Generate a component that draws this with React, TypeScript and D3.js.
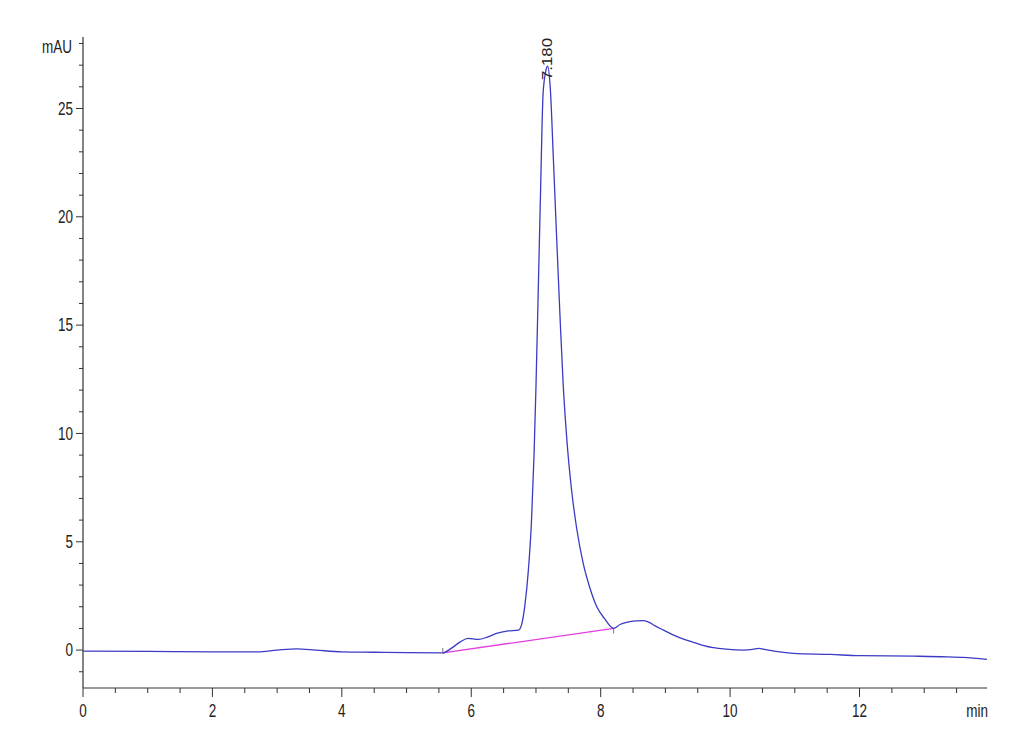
import React from "react";
import * as d3 from "d3";

const times = [0, 1, 2, 2.7, 3.0, 3.3, 3.6, 4.0, 4.5, 5.0, 5.56, 5.7, 5.83, 5.95, 6.11, 6.25, 6.39, 6.55, 6.73, 6.78, 6.83, 6.88, 6.93, 6.97, 7.0, 7.04, 7.07, 7.11, 7.15, 7.18, 7.22, 7.27, 7.32, 7.37, 7.42, 7.48, 7.55, 7.63, 7.73, 7.83, 7.94, 8.06, 8.2, 8.3, 8.4, 8.55, 8.66, 8.75, 8.81, 8.95, 9.12, 9.27, 9.43, 9.58, 9.74, 9.95, 10.2, 10.35, 10.44, 10.55, 10.98, 11.55, 12.0, 12.83, 13.35, 13.6, 13.97];
const signal = [-0.05, -0.06, -0.08, -0.08, 0.0, 0.06, 0.0, -0.08, -0.1, -0.12, -0.13, 0.1, 0.38, 0.54, 0.49, 0.6, 0.77, 0.88, 0.92, 1.2, 2.1, 3.6, 5.9, 9.0, 12.15, 17.2, 21.06, 25.68, 26.7, 26.95, 26.0, 22.6, 19.0, 15.5, 12.3, 9.6, 7.4, 5.6, 4.0, 2.9, 2.0, 1.45, 1.0, 1.18, 1.28, 1.35, 1.36, 1.28, 1.17, 0.95, 0.7, 0.52, 0.36, 0.22, 0.11, 0.04, 0.0, 0.03, 0.08, 0.02, -0.15, -0.2, -0.26, -0.28, -0.31, -0.34, -0.43];

const baselineTimes = [5.56, 8.2];
const baselineValues = [-0.13, 1.0];

const peakTime = 7.18;
const peakLabel = "7.180";

const xMajorTicks = [0, 2, 4, 6, 8, 10, 12];
const yMajorTicks = [0, 5, 10, 15, 20, 25];
const xUnit = "min";
const yUnit = "mAU";

const FONT = "'Liberation Sans', Arial, sans-serif";

export default function App() {
  const x = d3.scaleLinear().domain([0, 13.97]).range([83, 987]);
  const y = d3.scaleLinear().domain([-1.75, 28.3]).range([688, 37]);

  const pts = times.map((t, i) => [t, signal[i]] as [number, number]);
  const line = d3
    .line<[number, number]>()
    .x((d) => x(d[0]))
    .y((d) => y(d[1]))
    .curve(d3.curveMonotoneX);

  const xMinor = d3.range(0, 13.75, 0.5);
  const yMinor = d3.range(-1, 28.5, 1);

  const txt = (key: string, tx: number, ty: number, s: string, anchor: string) => (
    <g key={key} transform={`translate(${tx},${ty}) scale(1,1.32)`}>
      <text
        x={0}
        y={0}
        textAnchor={anchor as any}
        dominantBaseline="central"
        fontFamily={FONT}
        fontSize={13.5}
        fill="#222"
      >
        {s}
      </text>
    </g>
  );

  const bx0 = x(baselineTimes[0]);
  const by0 = y(baselineValues[0]);
  const bx1 = x(baselineTimes[1]);
  const by1 = y(baselineValues[1]);

  return (
    <svg
      width={1030}
      height={755}
      style={{ position: "absolute", left: 0, top: 0, display: "block", background: "#fff" }}
    >
      <rect x={0} y={0} width={1030} height={755} fill="#fff" />
      {/* axes */}
      <line x1={83} y1={y.range()[1]} x2={83} y2={688} stroke="#333" strokeWidth={1.2} />
      <line x1={83} y1={688} x2={987} y2={688} stroke="#333" strokeWidth={1.2} />
      {xMinor.map((t) => {
        const major = xMajorTicks.includes(t);
        return (
          <line key={"xt" + t} x1={x(t)} x2={x(t)} y1={688} y2={688 + (major ? 9 : 5)} stroke="#333" strokeWidth={1} />
        );
      })}
      {yMinor.map((v) => {
        const major = yMajorTicks.includes(v);
        return (
          <line key={"yt" + v} x1={83 - (major ? 7 : 4)} x2={83} y1={y(v)} y2={y(v)} stroke="#333" strokeWidth={1} />
        );
      })}
      {xMajorTicks.map((t) => txt("xl" + t, x(t), 711, String(t), "middle"))}
      {yMajorTicks.map((v) => txt("yl" + v, 73, y(v), String(v), "end"))}
      {txt("yu", 72, 47, yUnit, "end")}
      {txt("xu", 988, 711, xUnit, "end")}

      {/* baseline */}
      <line x1={bx0} y1={by0} x2={bx1} y2={by1} stroke="#e23fe0" strokeWidth={1.3} />
      <line x1={bx0} x2={bx0} y1={by0} y2={by0 - 5} stroke="#777" strokeWidth={1} />
      <line x1={bx1} x2={bx1} y1={by1} y2={by1 + 5} stroke="#777" strokeWidth={1} />

      {/* signal */}
      <path d={line(pts) || ""} fill="none" stroke="#3b3bc4" strokeWidth={1.3} />

      {/* peak label */}
      <g transform={`translate(${x(peakTime) + 4.5},80) rotate(-90) scale(1.2,1)`}>
        <text x={0} y={0} textAnchor="start" fontFamily={FONT} fontSize={14} fill="#222">
          {peakLabel}
        </text>
      </g>
    </svg>
  );
}
